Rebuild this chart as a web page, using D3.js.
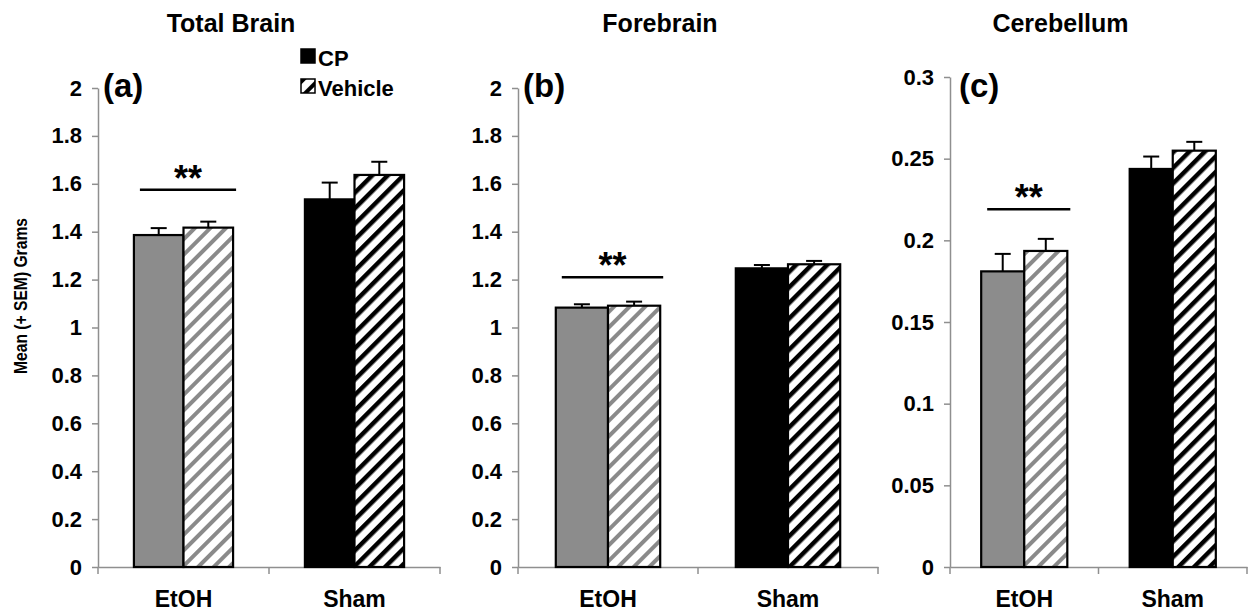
<!DOCTYPE html>
<html>
<head>
<meta charset="utf-8">
<script src="https://cdn.jsdelivr.net/npm/d3@7"></script>
<style>
  html, body { margin: 0; padding: 0; background: #fff; }
  svg { display: block; font-family: "Liberation Sans", Arial, sans-serif; font-weight: bold; }
</style>
</head>
<body>
<script>
// ---- data ----
const groups = ['EtOH', 'Sham'];
const series = ['CP', 'Vehicle'];
const panelTitles = ['Total Brain', 'Forebrain', 'Cerebellum'];
const panelLetters = ['(a)', '(b)', '(c)'];

// [group][series]  -> EtOH: CP, Vehicle ; Sham: CP, Vehicle
const totalBrainMean = [[1.386, 1.417], [1.535, 1.637]];
const totalBrainSem  = [[0.029, 0.025], [0.070, 0.055]];
const forebrainMean  = [[1.083, 1.091], [1.247, 1.264]];
const forebrainSem   = [[0.014, 0.017], [0.014, 0.014]];
const cerebellumMean = [[0.181, 0.1935], [0.2437, 0.2549]];
const cerebellumSem  = [[0.0107, 0.0074], [0.0076, 0.0054]];

const bigTicks   = [0, 0.2, 0.4, 0.6, 0.8, 1, 1.2, 1.4, 1.6, 1.8, 2];
const smallTicks = [0, 0.05, 0.1, 0.15, 0.2, 0.25, 0.3];
const sigLevels  = [1.575, 1.21, 0.219];   // height of the ** bracket (EtOH)

const W = 1254, H = 614;
const svg = d3.select('body').append('svg').attr('width', W).attr('height', H);

// hatch patterns
const defs = svg.append('defs');
function hatch(id, color, sw) {
  const p = defs.append('pattern')
    .attr('id', id)
    .attr('patternUnits', 'userSpaceOnUse')
    .attr('width', 11).attr('height', 11)
    .attr('patternTransform', 'rotate(45)');
  p.append('rect').attr('width', 11).attr('height', 11).attr('fill', '#fff');
  p.append('line').attr('x1', 2).attr('x2', 2).attr('y1', 0).attr('y2', 11)
    .attr('stroke', color).attr('stroke-width', sw);
}
hatch('hatch-gray', '#8a8a8a', 4);
hatch('hatch-black', '#000', 5);
hatch('hatch-legend', '#000', 4);

const fills = {
  EtOH: { CP: '#8c8c8c', Vehicle: 'url(#hatch-gray)' },
  Sham: { CP: '#000', Vehicle: 'url(#hatch-black)' },
};

const panels = [
  { means: totalBrainMean, sems: totalBrainSem, max: 2,   ticks: bigTicks,   x0: 98,  x1: 440,  top: 88 },
  { means: forebrainMean,  sems: forebrainSem,  max: 2,   ticks: bigTicks,   x0: 518, x1: 878,  top: 88 },
  { means: cerebellumMean, sems: cerebellumSem, max: 0.3, ticks: smallTicks, x0: 950, x1: 1247, top: 77 },
];
const bottom = 567;
const fmt = d => String(+d.toFixed(2));

panels.forEach((p, i) => {
  const g = svg.append('g');

  const y = d3.scaleLinear().domain([0, p.max]).range([bottom, p.top]);
  const xg = d3.scaleBand().domain(groups).range([p.x0, p.x1])
    .paddingInner(0.42).paddingOuter(0.21);
  const xs = d3.scaleBand().domain(series).range([0, xg.bandwidth()]);

  // y axis
  const ya = g.append('g').attr('transform', `translate(${p.x0},0)`)
    .call(d3.axisLeft(y).tickValues(p.ticks).tickFormat(fmt).tickSize(6).tickSizeOuter(0).tickPadding(10));
  ya.selectAll('path, line').attr('stroke', '#8f8f8f').attr('stroke-width', 1.5);
  ya.selectAll('text').attr('font-size', 22).attr('font-family', null).attr('fill', '#000');

  // x axis
  const xa = g.append('g').attr('transform', `translate(0,${bottom})`)
    .call(d3.axisBottom(xg).tickSize(0).tickSizeOuter(0).tickPadding(24));
  xa.select('.domain').attr('stroke', '#8f8f8f').attr('stroke-width', 1.5);
  xa.selectAll('text').attr('font-size', 23).attr('font-family', null).attr('fill', '#000');
  const step = xg.step();
  const bounds = [p.x0, p.x0 + step, p.x1];
  g.selectAll('.xb').data(bounds).join('line')
    .attr('x1', d => d).attr('x2', d => d)
    .attr('y1', bottom).attr('y2', bottom + 7)
    .attr('stroke', '#8f8f8f').attr('stroke-width', 1.5);

  // bars
  const rows = [];
  groups.forEach((gr, gi) => series.forEach((s, si) => {
    rows.push({ group: gr, series: s, mean: p.means[gi][si], sem: p.sems[gi][si] });
  }));

  // error bars (upper only) drawn first so bar covers the stub
  const eb = g.selectAll('.eb').data(rows).join('g');
  eb.append('line')
    .attr('x1', d => xg(d.group) + xs(d.series) + xs.bandwidth() / 2)
    .attr('x2', d => xg(d.group) + xs(d.series) + xs.bandwidth() / 2)
    .attr('y1', d => y(d.mean)).attr('y2', d => y(d.mean + d.sem))
    .attr('stroke', '#000').attr('stroke-width', 2);
  eb.append('line')
    .attr('x1', d => xg(d.group) + xs(d.series) + xs.bandwidth() / 2 - 8)
    .attr('x2', d => xg(d.group) + xs(d.series) + xs.bandwidth() / 2 + 8)
    .attr('y1', d => y(d.mean + d.sem)).attr('y2', d => y(d.mean + d.sem))
    .attr('stroke', '#000').attr('stroke-width', 2);

  g.selectAll('.bar').data(rows).join('rect')
    .attr('x', d => xg(d.group) + xs(d.series))
    .attr('y', d => y(d.mean))
    .attr('width', xs.bandwidth())
    .attr('height', d => bottom - y(d.mean))
    .attr('fill', d => fills[d.group][d.series])
    .attr('stroke', '#000').attr('stroke-width', 2.2);

  // significance bracket over EtOH
  const sx0 = xg('EtOH') + 6, sx1 = xg('EtOH') + xg.bandwidth() + 3;
  g.append('line')
    .attr('x1', sx0).attr('x2', sx1)
    .attr('y1', y(sigLevels[i])).attr('y2', y(sigLevels[i]))
    .attr('stroke', '#000').attr('stroke-width', 2.5);
  g.append('text')
    .attr('x', (sx0 + sx1) / 2).attr('y', y(sigLevels[i]) + 1)
    .attr('text-anchor', 'middle').attr('font-size', 36)
    .text('**');

  // title and panel letter
  g.append('text')
    .attr('x', (p.x0 + p.x1) / 2 - 38).attr('y', 32)
    .attr('text-anchor', 'middle').attr('font-size', 25)
    .text(panelTitles[i]);
  g.append('text')
    .attr('x', p.x0 + 5 + (i === 2 ? 4 : 0)).attr('y', 97)
    .attr('font-size', 33)
    .text(panelLetters[i]);
});

// legend
const legend = svg.append('g').attr('transform', 'translate(301,49)');
const legendFills = ['#000', 'url(#hatch-legend)'];
series.forEach((s, i) => {
  const row = legend.append('g').attr('transform', `translate(0,${i * 30})`);
  row.append('rect').attr('width', 14).attr('height', 14)
    .attr('fill', legendFills[i]).attr('stroke', '#000').attr('stroke-width', 1.5);
  row.append('text').attr('x', 17).attr('y', 17).attr('font-size', 22).text(s);
});

// y axis title
svg.append('text')
  .attr('transform', 'translate(27,296) rotate(-90)')
  .attr('text-anchor', 'middle').attr('font-size', 19)
  .attr('textLength', 156).attr('lengthAdjust', 'spacingAndGlyphs')
  .text('Mean (+ SEM) Grams');
</script>
</body>
</html>
